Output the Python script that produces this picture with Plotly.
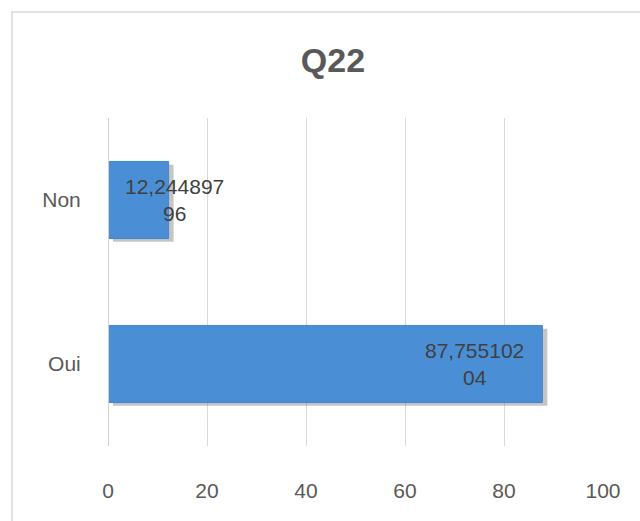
import plotly.graph_objects as go

categories = ["Oui", "Non"]
values = [87.75510204, 12.24489796]
label_texts = ["87,755102<br>04", "12,244897<br>96"]
label_shifts = [-68, 6]
x_ticks = [0, 20, 40, 60, 80, 100]
title = "Q22"

font_family = "Liberation Sans, Arial, sans-serif"
text_color = "#595959"

fig = go.Figure()

# soft shadow behind the bars
fig.add_trace(go.Bar(
    y=categories, x=values, orientation="h", base=1.0,
    marker=dict(color="rgba(90,90,90,0.35)", line=dict(width=0)),
    width=0.47, offset=-0.235 - 0.02, hoverinfo="skip", showlegend=False,
))
fig.add_trace(go.Bar(
    y=categories, x=values, orientation="h",
    marker=dict(color="#4a8fd6", line=dict(color="#4586cf", width=1)),
    width=0.47, offset=-0.235, showlegend=False,
))

for cat, val, txt, sh in zip(categories, values, label_texts, label_shifts):
    fig.add_annotation(
        x=val, y=cat, xref="x", yref="y", text=txt, showarrow=False,
        xanchor="center", yanchor="middle", xshift=sh, align="center",
        font=dict(family=font_family, size=21, color="#404040"),
    )

# chart area border
fig.add_shape(type="rect", xref="paper", yref="paper",
              x0=-0.194, x1=1.3, y0=-0.5, y1=1.323,
              line=dict(color="#d9d9d9", width=1.5), fillcolor="rgba(0,0,0,0)",
              layer="below")

fig.update_layout(
    width=640, height=521,
    margin=dict(l=108, r=37, t=118, b=75),
    paper_bgcolor="white", plot_bgcolor="white",
    barmode="overlay",
    title=dict(text="<b>" + title + "</b>", x=333 / 640, xanchor="center",
               xref="container", y=1 - 60 / 521, yanchor="middle",
               yref="container",
               font=dict(family=font_family, size=34, color=text_color)),
    xaxis=dict(range=[0, 100], tickvals=x_ticks, showgrid=True,
               gridcolor="#d9d9d9", gridwidth=1, zeroline=False,
               showline=False, ticks="outside", ticklen=26,
               tickcolor="rgba(0,0,0,0)",
               tickfont=dict(family=font_family, size=21, color=text_color)),
    yaxis=dict(categoryorder="array", categoryarray=categories,
               showgrid=False, zeroline=False, showline=False,
               ticks="outside", ticklen=22, tickcolor="rgba(0,0,0,0)",
               tickfont=dict(family=font_family, size=21, color=text_color)),
)

fig.add_shape(type="line", xref="x", yref="paper", x0=0, x1=0, y0=0, y1=1,
              line=dict(color="#d0d0d0", width=2))

fig.write_html("out.html")
